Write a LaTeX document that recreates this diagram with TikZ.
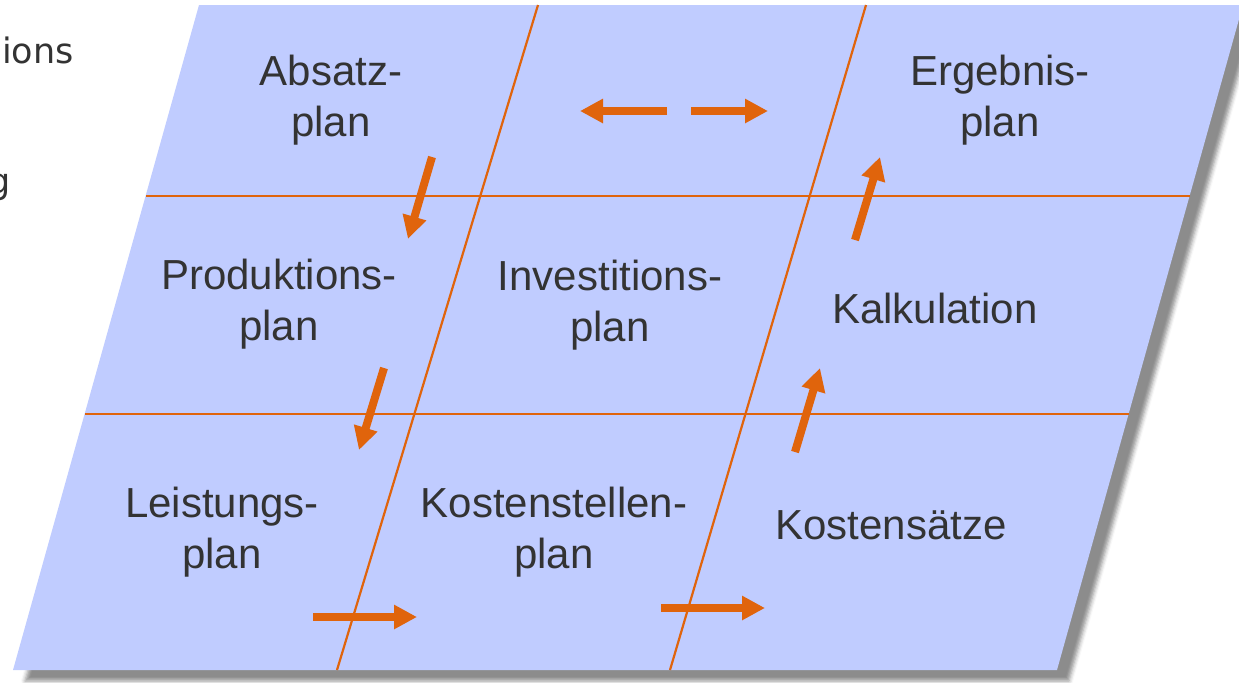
\documentclass[tikz,border=0pt]{standalone}
\usepackage{fontspec}
\setmainfont{Liberation Sans}
\newfontfamily\slidefont{DejaVu Sans}
\usetikzlibrary{arrows.meta,shadows.blur,positioning}
\definecolor{planblue}{HTML}{C0CCFF}
\definecolor{planorange}{HTML}{E0640C}
\definecolor{plantext}{HTML}{333333}
\tikzstyle{cell} = [align=center, text=plantext, inner sep=0pt, font=\fontsize{21}{25.5}\selectfont]
\tikzstyle{behind} = [text=plantext, inner sep=0pt, font=\slidefont\fontsize{17.5}{21}\selectfont]
\tikzstyle{grid} = [planorange, line width=1.1pt]
\tikzstyle{flow} = [planorange, line width=4pt, -{Triangle[length=11.5pt,width=11.5pt]}]

\begin{document}
\begin{tikzpicture}[x=0.5pt,y=-0.5pt]
      \useasboundingbox (0,0) rectangle (1239,682);
      \clip (0,0) rectangle (1239,682);
      % text of the slide behind, cut off
      \node[behind, anchor=base east] (ions) at (74,63) {ions};
      \node[behind, anchor=base east] (g) at (11,193) {g};
      % the sheet
      \fill[planblue, blur shadow={shadow xshift=6pt, shadow yshift=-5.5pt, shadow blur radius=2pt, shadow opacity=45}]
            (13,670) -- (199,5) -- (1243,5) -- (1057,670) -- cycle;
      \coordinate (h1w) at (146,196);
      \coordinate (h1e) at (1190,196);
      \coordinate (h2w) at (85,414);
      \coordinate (h2e) at (1129,414);
      \coordinate (v1n) at (538,5);
      \coordinate (v1s) at (337,670);
      \coordinate (v2n) at (866,5);
      \coordinate (v2s) at (670,670);
      \draw[grid] (h1w)--(h1e);
      \draw[grid] (h2w)--(h2e);
      \draw[grid] (v1n)--(v1s);
      \draw[grid] (v2n)--(v2s);
      % the plans
      \node[cell] (absatz) at (331,100) {Absatz-\\plan};
      \node[cell] (ergebnis) at (1000,100) {Ergebnis-\\plan};
      \node[cell] (produktion) at (279,304) {Produktions-\\plan};
      \node[cell] (invest) at (610,305) {Investitions-\\plan};
      \node[cell] (kalk) at (935,308) {Kalkulation};
      \node[cell] (leistung) at (222,532) {Leistungs-\\plan};
      \node[cell] (kstellen) at (554,532) {Kostenstellen-\\plan};
      \node[cell] (ksaetze) at (891,525) {Kostens\"atze};
      % arrows
      \coordinate (a1s) at (432,157);
      \coordinate (a1e) at (408,239);
      \coordinate (a2s) at (384,368);
      \coordinate (a2e) at (359,450);
      \coordinate (a3s) at (313,617);
      \coordinate (a3e) at (417,617);
      \coordinate (a4s) at (661,608);
      \coordinate (a4e) at (765,608);
      \coordinate (a5s) at (795,452);
      \coordinate (a5e) at (820,368);
      \coordinate (a6s) at (855,240);
      \coordinate (a6e) at (880,157);
      \coordinate (a7s) at (667,111);
      \coordinate (a7e) at (580,111);
      \coordinate (a8s) at (691,111);
      \coordinate (a8e) at (768,111);
      \draw[flow] (a1s)--(a1e);
      \draw[flow] (a2s)--(a2e);
      \draw[flow] (a3s)--(a3e);
      \draw[flow] (a4s)--(a4e);
      \draw[flow] (a5s)--(a5e);
      \draw[flow] (a6s)--(a6e);
      \draw[flow] (a7s)--(a7e);
      \draw[flow] (a8s)--(a8e);
\end{tikzpicture}
\end{document}
